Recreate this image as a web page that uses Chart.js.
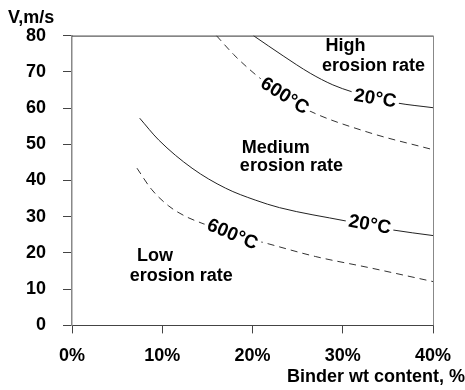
<!DOCTYPE html>
<html>
<head>
<meta charset="utf-8">
<script src="https://cdn.jsdelivr.net/npm/chart.js@4/dist/chart.umd.min.js"></script>
<style>
  html, body { margin: 0; padding: 0; background: #fff; }
  #wrap { width: 465px; height: 390px; }
</style>
</head>
<body>
<div id="wrap"><canvas id="c" width="465" height="390"></canvas></div>
<script>
// Binder content (%) and erosion-threshold velocity (m/s) for each boundary curve
const upper20X  = [20.1, 23.4, 26.4, 28.9, 31.0, 33.6, 36.0, 40.0];
const upper20V  = [80.0, 74.4, 69.6, 66.4, 64.5, 62.7, 61.4, 60.1];
const upper600X = [16.0, 17.9, 19.7, 20.8, 23.6, 26.0, 32.7, 40.0];
const upper600V = [80.0, 74.8, 70.6, 68.3, 63.3, 59.6, 53.4, 48.5];
const lower20X  = [7.5, 9.6, 13.3, 17.0, 20.3, 23.0, 30.4, 35.4, 40.0];
const lower20V  = [57.2, 51.2, 43.4, 37.9, 34.6, 32.5, 28.8, 26.4, 24.8];
const lower600X = [7.2, 8.8, 10.7, 12.5, 14.4, 17.8, 21.5, 27.0, 33.0, 40.0];
const lower600V = [43.4, 37.6, 33.0, 30.2, 28.2, 25.2, 22.7, 19.0, 15.9, 12.1];

const xTicks = [0, 10, 20, 30, 40];
const yTicks = [0, 10, 20, 30, 40, 50, 60, 70, 80];

const FONT = "'Liberation Sans', Arial, sans-serif";

function pts(xs, vs) { return xs.map((x, i) => ({ x: x, y: vs[i] })); }

// Curve captions: [text, x%, v, rotation deg]
const curveLabels = [
  ['20°C', 33.6, 62.8, 9],
  ['600°C', 23.6, 63.5, 32],
  ['20°C', 33.0, 28.0, 10],
  ['600°C', 17.8, 25.3, 23]
];
// Region captions: [text, x% (left edge), v (middle)]
const regionLabels = [
  ['High', 28.1, 77.4],
  ['erosion rate', 27.7, 71.9],
  ['Medium', 18.8, 49.3],
  ['erosion rate', 18.6, 44.3],
  ['Low', 7.2, 19.4],
  ['erosion rate', 6.4, 13.9]
];

const textPlugin = {
  id: 'textPlugin',
  afterDraw(chart) {
    const ctx = chart.ctx;
    const xs = chart.scales.x, ys = chart.scales.y;
    const a = chart.chartArea;
    ctx.save();
    // frame: top and right edges
    ctx.lineWidth = 1;
    ctx.strokeStyle = '#333';
    ctx.beginPath();
    ctx.moveTo(a.left, a.top + 0.5);
    ctx.lineTo(a.right, a.top + 0.5);
    ctx.stroke();
    ctx.strokeStyle = '#888';
    ctx.beginPath();
    ctx.moveTo(a.right + 0.5, a.top);
    ctx.lineTo(a.right + 0.5, a.bottom);
    ctx.stroke();

    ctx.font = 'bold 19px ' + FONT;
    ctx.fillStyle = '#000';
    ctx.textBaseline = 'middle';
    curveLabels.forEach(([t, x, v, rot]) => {
      const px = xs.getPixelForValue(x), py = ys.getPixelForValue(v);
      ctx.save();
      ctx.translate(px, py);
      ctx.rotate(rot * Math.PI / 180);
      const w = ctx.measureText(t).width;
      ctx.fillStyle = '#fff';
      ctx.fillRect(-w / 2 - 3, -8, w + 6, 16);
      ctx.fillStyle = '#000';
      ctx.textAlign = 'center';
      ctx.fillText(t, 0, 1);
      ctx.restore();
    });
    ctx.font = 'bold 18px ' + FONT;
    ctx.textAlign = 'left';
    regionLabels.forEach(([t, x, v]) => {
      ctx.fillText(t, xs.getPixelForValue(x), ys.getPixelForValue(v) + 1);
    });
    ctx.restore();
  }
};

const solid = { borderColor: '#222', borderWidth: 1, pointRadius: 0, fill: false,
                cubicInterpolationMode: 'monotone' };
const dashed = Object.assign({}, solid, { borderDash: [7, 5], borderColor: '#333' });

new Chart(document.getElementById('c'), {
  type: 'line',
  data: {
    datasets: [
      Object.assign({ label: '20°C', data: pts(upper20X, upper20V) }, solid),
      Object.assign({ label: '600°C', data: pts(upper600X, upper600V) }, dashed),
      Object.assign({ label: '20°C', data: pts(lower20X, lower20V) }, solid),
      Object.assign({ label: '600°C', data: pts(lower600X, lower600V) }, dashed)
    ]
  },
  options: {
    responsive: false,
    animation: false,
    layout: { padding: { left: 8, right: 0, top: 0, bottom: 0 } },
    plugins: {
      legend: { display: false },
      tooltip: { enabled: false },
      title: {
        display: true, text: 'V,m/s', align: 'start', color: '#000',
        font: { family: FONT, size: 18, weight: 'bold' },
        padding: { top: 7, bottom: 7 }
      },
      subtitle: {
        display: true, text: 'Binder wt content, %', align: 'end', position: 'bottom',
        color: '#000', font: { family: FONT, size: 18, weight: 'bold' },
        padding: { top: 0, bottom: 2 }
      }
    },
    scales: {
      x: {
        type: 'linear', min: 0, max: 40,
        afterBuildTicks(s) { s.ticks = xTicks.map(v => ({ value: v })); },
        afterFit(s) { s.height = 41; },
        ticks: {
          color: '#000', padding: 12,
          font: { family: FONT, size: 18, weight: 'bold' },
          callback: v => v + '%'
        },
        grid: { display: true, drawOnChartArea: false, drawTicks: true, tickLength: 8, color: '#444' },
        border: { display: true, color: '#444', width: 1 }
      },
      y: {
        type: 'linear', min: 0, max: 80,
        afterBuildTicks(s) { s.ticks = yTicks.map(v => ({ value: v })); },
        afterFit(s) { s.width = 64; },
        ticks: {
          color: '#000', padding: 17,
          font: { family: FONT, size: 18, weight: 'bold' }
        },
        grid: { display: true, drawOnChartArea: false, drawTicks: true, tickLength: 9, color: '#444' },
        border: { display: true, color: '#888', width: 1.5 }
      },
      yr: {
        type: 'linear', position: 'right', display: true,
        ticks: { display: false },
        grid: { display: false },
        border: { display: false },
        afterFit(s) { s.width = 32; }
      }
    }
  },
  plugins: [textPlugin]
});
</script>
</body>
</html>
